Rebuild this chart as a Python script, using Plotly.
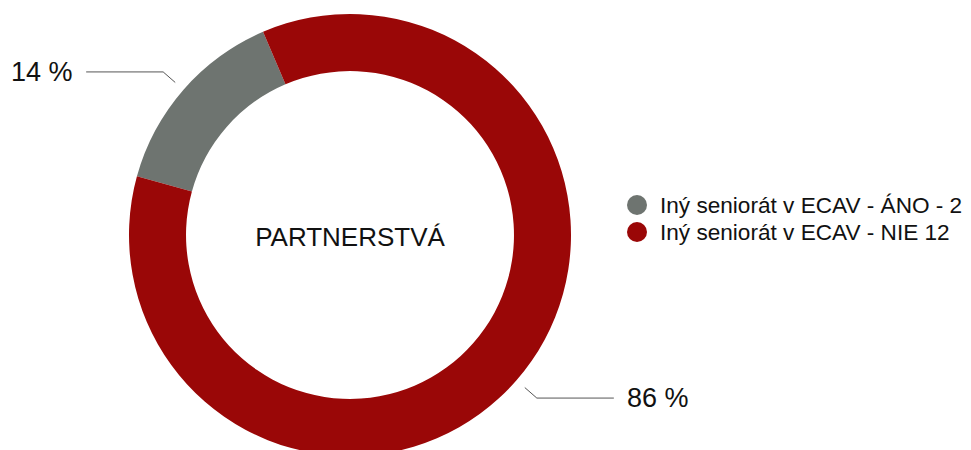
import math
import plotly.graph_objects as go

# ---- data ----
labels = ["Iný seniorát v ECAV - ÁNO - 2", "Iný seniorát v ECAV - NIE 12"]
values = [2, 12]
colors = ["#6e7470", "#9a0707"]
center_title = "PARTNERSTVÁ"

# ---- layout geometry (figure pixels) ----
W, H = 971, 450
cx, cy, R = 342, 227, 221
hole = 0.742
rotation = -74.6
FONT = "Liberation Sans, Arial, Helvetica, sans-serif"

fig = go.Figure()
fig.add_trace(go.Pie(
    labels=labels, values=values, hole=hole, sort=False,
    direction="clockwise", rotation=rotation,
    marker=dict(colors=colors, line=dict(width=0)),
    textinfo="none", showlegend=False, hoverinfo="label+percent",
    domain=dict(x=[(cx - R) / W, (cx + R) / W], y=[1 - (cy + R) / H, 1 - (cy - R) / H]),
    title=dict(text=center_title, position="middle center",
               font=dict(size=26, color="#111111", family=FONT)),
))

shapes, annotations = [], []

# outside percentage labels with elbow leader lines
total = sum(values)
start = rotation
for v in values:
    span = v / total * 360
    mid = math.radians(start + span / 2)
    start += span
    s, c = math.sin(mid), math.cos(mid)
    x0, y0 = cx + (R + 11) * s, cy - (R + 11) * c
    x1, y1 = cx + (R + 27) * s, cy - (R + 27) * c
    side = 1 if s >= 0 else -1
    x2 = x1 + side * 77
    path = (f"M {x0 / W},{1 - y0 / H} L {x1 / W},{1 - y1 / H} "
            f"L {x2 / W},{1 - y1 / H}")
    shapes.append(dict(type="path", xref="paper", yref="paper", path=path,
                       line=dict(color="#555555", width=1)))
    annotations.append(dict(
        x=(x2 + side * 11) / W, y=1 - y1 / H, xref="paper", yref="paper",
        text=f"{round(v / total * 100)} %", showarrow=False,
        xanchor="left" if side > 0 else "right", yanchor="middle",
        font=dict(size=27, color="#111111", family=FONT)))

# legend with circular symbols
lx, ly0, ldy, lr = 629, 197, 27, 10
for i, (lab, col) in enumerate(zip(labels, colors)):
    yy = ly0 + i * ldy
    shapes.append(dict(type="circle", xref="paper", yref="paper",
                       x0=(lx - lr) / W, x1=(lx + lr) / W,
                       y0=1 - (yy + lr) / H, y1=1 - (yy - lr) / H,
                       fillcolor=col, line=dict(width=0)))
    annotations.append(dict(
        x=(lx + 21) / W, y=1 - yy / H, xref="paper", yref="paper",
        text=lab, showarrow=False, xanchor="left", yanchor="middle",
        font=dict(size=22.6, color="#111111", family=FONT)))

fig.update_layout(
    width=W, height=H,
    margin=dict(l=0, r=0, t=0, b=0),
    paper_bgcolor="white", plot_bgcolor="white",
    shapes=shapes, annotations=annotations,
    showlegend=False,
    font=dict(family=FONT),
)

fig.write_html("out.html")
